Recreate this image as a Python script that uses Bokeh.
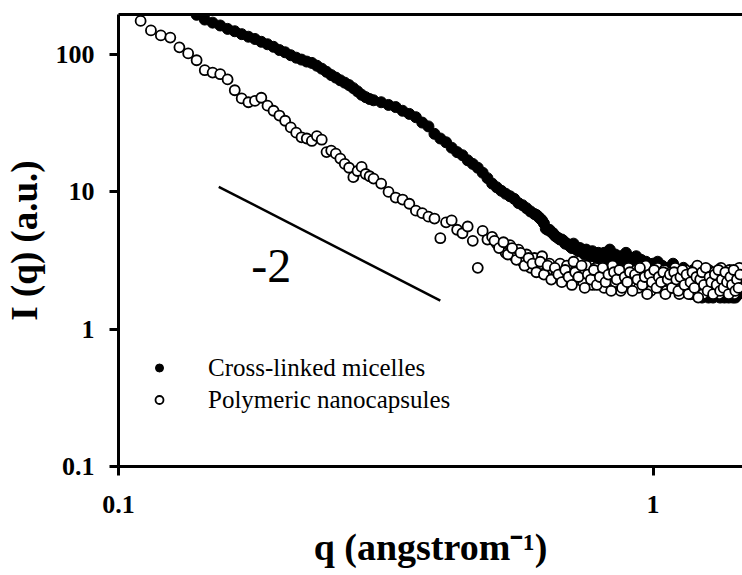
from bokeh.plotting import figure
from bokeh.models import Label, LogAxis, FixedTicker, Legend, LegendItem, Range1d
from bokeh.embed import file_html
from bokeh.resources import INLINE

# ---- data (q in 1/angstrom, I in a.u.) ----
q_micelles = [0.140, 0.145, 0.150, 0.155, 0.160, 0.165, 0.170, 0.175, 0.180, 0.185,
              0.190, 0.195, 0.200, 0.205, 0.210, 0.215, 0.220, 0.225, 0.230, 0.235,
              0.240, 0.245, 0.250, 0.255, 0.260, 0.265, 0.270, 0.275, 0.280, 0.285,
              0.290, 0.295, 0.300,
              0.31, 0.32, 0.33, 0.34, 0.35, 0.36, 0.37, 0.38, 0.39, 0.40,
              0.41, 0.42, 0.43, 0.44, 0.45, 0.46, 0.47, 0.48, 0.49, 0.50,
              0.51, 0.52, 0.53, 0.54, 0.55, 0.56, 0.57, 0.58, 0.59, 0.60,
              0.61, 0.62, 0.63, 0.64, 0.65, 0.66, 0.67, 0.68, 0.69, 0.70,
              0.71, 0.72, 0.73, 0.74, 0.75, 0.76, 0.77, 0.78, 0.79, 0.80,
              0.81, 0.82, 0.83, 0.84, 0.85, 0.86, 0.87, 0.88, 0.89, 0.90,
              0.91, 0.92, 0.93, 0.94, 0.95, 0.96, 0.97, 0.98, 0.99, 1.00,
              1.01, 1.02, 1.03, 1.04, 1.05, 1.06, 1.07, 1.08, 1.09, 1.10,
              1.11, 1.12, 1.13, 1.14, 1.15, 1.16, 1.17, 1.18, 1.19, 1.20,
              1.21, 1.22, 1.23, 1.24, 1.25, 1.26, 1.27, 1.28, 1.29, 1.30,
              1.31, 1.32, 1.33, 1.34, 1.35, 1.36, 1.37, 1.38, 1.39, 1.40,
              1.41, 1.42, 1.43, 1.44, 1.45, 1.46]
I_micelles = [195, 180, 171, 163, 154, 148, 141, 135, 130, 124,
              119, 114, 108, 104, 99, 95, 92, 89, 87, 83,
              79, 75, 71, 68, 65, 62.5, 60, 57, 54, 51,
              49, 47.5, 46.5,
              45, 43, 41.5, 39, 37, 35, 32, 30, 26.5, 24.5,
              23, 21, 19.5, 18.5, 17, 16, 15, 13.8, 12.6, 11.5,
              10.8, 10.2, 9.7, 9.3, 8.9, 8.3, 8.0, 7.6, 7.2, 6.9,
              6.6, 6.2, 5.4, 5.3, 5.0, 4.7, 4.5, 4.4, 4.2, 4.0,
              4.2, 3.8, 3.9, 3.6, 3.8, 3.5, 3.7, 3.4, 3.6, 3.3,
              3.6, 3.3, 3.8, 3.2, 3.5, 3.0, 3.4, 3.1, 3.6, 2.9,
              3.3, 3.0, 3.4, 2.8, 3.2, 2.7, 3.1, 2.9, 2.6, 3.0,
              2.7, 3.1, 2.5, 2.9, 2.6, 2.2, 2.8, 2.4, 3.0, 2.3,
              2.7, 2.0, 2.5, 2.8, 2.2, 2.6, 1.9, 2.4, 2.7, 2.1,
              2.5, 1.8, 2.3, 2.6, 2.0, 2.4, 1.7, 2.2, 2.5, 1.9,
              2.3, 2.6, 1.8, 2.1, 2.4, 1.7, 2.2, 2.5, 1.9, 2.3,
              1.7, 2.1, 2.4, 1.8, 2.2, 2.0]

q_capsules = [0.110, 0.115, 0.120, 0.125, 0.130, 0.135, 0.140, 0.145, 0.150, 0.155,
              0.160, 0.165, 0.170, 0.175, 0.180, 0.185, 0.190, 0.195, 0.200, 0.205,
              0.210, 0.215, 0.220, 0.225, 0.230, 0.235, 0.240, 0.245, 0.250, 0.255,
              0.260, 0.265, 0.270, 0.275, 0.280, 0.285, 0.290, 0.295, 0.300,
              0.31, 0.32, 0.33, 0.34, 0.35, 0.36, 0.37, 0.38, 0.39, 0.40,
              0.41, 0.42, 0.43, 0.44, 0.45, 0.46, 0.47, 0.48, 0.49, 0.50,
              0.51, 0.52, 0.53, 0.54, 0.55, 0.56, 0.57, 0.58, 0.59, 0.60,
              0.61, 0.62, 0.63, 0.64, 0.65, 0.66, 0.67, 0.68, 0.69, 0.70,
              0.71, 0.72, 0.73, 0.74, 0.75, 0.76, 0.77, 0.78, 0.79, 0.80,
              0.81, 0.82, 0.83, 0.84, 0.85, 0.86, 0.87, 0.88, 0.89, 0.90,
              0.91, 0.92, 0.93, 0.94, 0.95, 0.96, 0.97, 0.98, 0.99, 1.00,
              1.01, 1.02, 1.03, 1.04, 1.05, 1.06, 1.07, 1.08, 1.09, 1.10,
              1.11, 1.12, 1.13, 1.14, 1.15, 1.16, 1.17, 1.18, 1.19, 1.20,
              1.21, 1.22, 1.23, 1.24, 1.25, 1.26, 1.27, 1.28, 1.29, 1.30,
              1.31, 1.32, 1.33, 1.34, 1.35, 1.36, 1.37, 1.38, 1.39, 1.40,
              1.41, 1.42, 1.43, 1.44, 1.45, 1.46]
I_capsules = [176, 150, 138, 133, 113, 102, 91, 77, 74, 72,
              66, 55, 48, 45, 46, 48.5, 42.5, 39, 36, 33,
              29.5, 27, 25, 24.5, 23.5, 25.5, 24, 19.5, 20, 19,
              17.5, 16, 15, 12.8, 14.2, 15.2, 13.5, 13, 12.5,
              11.5, 10.0, 9.1, 8.8, 8.2, 7.3, 7.0, 6.6, 6.4, 4.6,
              6.0, 6.2, 5.3, 5.0, 5.6, 4.4, 2.8, 5.2, 4.5, 4.7,
              4.2, 4.0, 3.6, 4.1, 3.4, 3.8, 3.1, 3.5, 2.8, 3.3,
              2.9, 3.4, 2.6, 3.0, 2.7, 2.6, 3.0, 2.4, 2.9, 2.5,
              3.1, 2.3, 2.7, 2.2, 2.9, 2.5, 2.1, 2.8, 2.4, 2.6,
              2.0, 2.7, 2.3, 2.9, 2.2, 2.5, 1.9, 2.6, 2.3, 2.8,
              2.1, 2.4, 2.7, 2.0, 2.5, 2.2, 2.9, 2.3, 1.9, 2.6,
              2.2, 2.8, 2.0, 2.4, 2.7, 1.9, 2.3, 2.6, 2.1, 2.8,
              2.2, 1.8, 2.5, 2.3, 2.7, 2.0, 2.4, 1.8, 2.6, 2.2,
              2.9, 2.0, 2.4, 1.8, 2.5, 2.2, 2.7, 1.9, 2.3, 2.6,
              2.0, 2.4, 1.8, 2.8, 2.1, 2.5, 1.9, 2.3, 2.7, 2.0,
              2.4, 1.8, 2.6, 2.2, 2.8, 2.0]

# additional (interleaved) high-q readings
q_interleaved = [0.505, 0.515, 0.525, 0.535, 0.545, 0.555, 0.565, 0.575, 0.585, 0.595,
                 0.605, 0.615, 0.625, 0.635, 0.645, 0.655, 0.665, 0.675, 0.685, 0.695,
                 0.705, 0.715, 0.725, 0.735, 0.745, 0.755, 0.765, 0.775, 0.785, 0.795,
                 0.805, 0.815, 0.825, 0.835, 0.845, 0.855, 0.865, 0.875, 0.885, 0.895,
                 0.905, 0.915, 0.925, 0.935, 0.945, 0.955, 0.965, 0.975, 0.985, 0.995,
                 1.005, 1.015, 1.025, 1.035, 1.045, 1.055, 1.065, 1.075, 1.085, 1.095,
                 1.105, 1.115, 1.125, 1.135, 1.145, 1.155, 1.165, 1.175, 1.185, 1.195,
                 1.205, 1.215, 1.225, 1.235, 1.245, 1.255, 1.265, 1.275, 1.285, 1.295,
                 1.305, 1.315, 1.325, 1.335, 1.345, 1.355, 1.365, 1.375, 1.385, 1.395,
                 1.405, 1.415, 1.425, 1.435, 1.445, 1.455]
I_micelles_interleaved = [  # from q = 0.605 on
    6.8, 6.4, 5.9, 5.3, 5.1, 4.8, 4.6, 4.5, 4.2, 4.1,
    3.9, 4.0, 3.7, 3.8, 3.5, 3.6, 3.4, 3.6, 3.3, 3.5,
    3.2, 3.5, 3.1, 3.4, 3.0, 3.3, 2.9, 3.2, 2.8, 3.1,
    2.7, 3.2, 2.6, 3.0, 2.7, 2.9, 2.5, 2.8, 2.4, 2.7,
    2.3, 2.6, 2.8, 2.2, 2.5, 2.7, 2.1, 2.4, 2.6, 2.0,
    2.5, 2.2, 2.6, 1.9, 2.4, 2.1, 2.5, 1.8, 2.3, 2.0,
    2.4, 1.9, 2.2, 1.7, 2.3, 2.0, 2.4, 1.8, 2.1, 1.7,
    2.2, 1.9, 2.3, 1.7, 2.0, 2.3, 1.8, 2.1, 1.7, 2.2,
    1.9, 2.3, 1.7, 2.0, 1.8, 2.2]
I_capsules_interleaved = [
    4.4, 3.9, 4.3, 3.5, 3.9, 3.2, 3.6, 2.9, 3.3, 3.0,
    2.6, 3.1, 2.5, 2.9, 2.3, 2.8, 2.5, 2.2, 2.7, 2.4,
    2.1, 2.6, 2.4, 2.9, 2.0, 2.5, 2.3, 2.7, 2.1, 2.4,
    2.8, 2.2, 2.5, 1.9, 2.6, 2.3, 2.7, 2.0, 2.4, 2.2,
    2.6, 1.9, 2.5, 2.3, 2.8, 2.1, 2.4, 1.8, 2.5, 2.2,
    2.7, 2.0, 2.4, 2.2, 2.6, 1.8, 2.3, 2.5, 2.0, 2.6,
    2.3, 1.9, 2.4, 2.7, 2.1, 2.5, 1.8, 2.2, 2.6, 2.0,
    2.4, 1.7, 2.3, 2.6, 2.1, 2.8, 1.9, 2.4, 2.2, 1.8,
    2.5, 2.1, 2.7, 1.9, 2.3, 2.0, 2.6, 2.2, 1.8, 2.4,
    2.1, 2.7, 1.9, 2.3, 2.0, 2.5]

series_labels = ["Cross-linked micelles", "Polymeric nanocapsules"]
x_ticks = [0.1, 1]
y_ticks = [0.1, 1, 10, 100]
x_tick_labels = ["0.1", "1"]
y_tick_labels = ["0.1", "1", "10", "100"]
x_title = "q (angstrom\u207b\u00b9)"
y_title = "I (q) (a.u.)"

# guide line of slope -2
slope = -2
slope_q = [0.154, 0.40]
slope_I = [10.9 * (q / slope_q[0]) ** slope for q in slope_q]

SERIF = "Liberation Serif"

p = figure(width=742, height=575, x_axis_type="log", y_axis_type="log",
           x_range=Range1d(0.1, 1.47), y_range=Range1d(0.1, 196),
           output_backend="svg", toolbar_location=None,
           min_border_left=117, min_border_right=0, min_border_top=14, min_border_bottom=109,
           background_fill_color="white", border_fill_color="white")
p.outline_line_color = None
p.grid.visible = False

for ax, ticks, labels in ((p.xaxis[0], x_ticks, x_tick_labels), (p.yaxis[0], y_ticks, y_tick_labels)):
    ax.ticker = FixedTicker(ticks=ticks, minor_ticks=[])
    ax.major_label_overrides = {t: l for t, l in zip(ticks, labels)}
    ax.axis_line_width = 3
    ax.axis_line_color = "black"
    ax.major_tick_line_width = 3
    ax.major_tick_line_color = "black"
    ax.major_tick_in = 0
    ax.major_tick_out = 9
    ax.minor_tick_line_color = None
    ax.major_label_text_font = SERIF
    ax.major_label_text_font_style = "bold"
    ax.major_label_text_font_size = "26px"
    ax.major_label_text_color = "black"
    ax.axis_label_text_font = SERIF
    ax.axis_label_text_font_style = "bold"
    ax.axis_label_text_font_size = "37px"
    ax.axis_label_text_color = "black"

p.xaxis.major_label_standoff = 20
p.yaxis.major_label_standoff = 15

p.yaxis.axis_label = y_title
p.yaxis.axis_label_standoff = 8
p.xaxis.axis_label = x_title
p.xaxis.axis_label_standoff = 10
p.xaxis.axis_label_text_font_size = "38px"

# top frame line
top = LogAxis(ticker=FixedTicker(ticks=[], minor_ticks=[]), axis_line_width=3,
              axis_line_color="black", major_tick_out=0, major_tick_in=0,
              major_label_text_font_size="0px", major_label_standoff=0)
p.add_layout(top, "above")

r1 = p.scatter(q_micelles, I_micelles, marker="circle", size=11,
               fill_color="black", line_color="black")
p.scatter(q_interleaved[10:], I_micelles_interleaved, marker="circle", size=11,
          fill_color="black", line_color="black")
r2 = p.scatter(q_capsules, I_capsules, marker="circle", size=10,
               fill_color="white", line_color="black", line_width=1.8)
p.scatter(q_interleaved, I_capsules_interleaved, marker="circle", size=10,
          fill_color="white", line_color="black", line_width=1.8)

p.line(slope_q, slope_I, line_color="black", line_width=2.5)
p.add_layout(Label(x=0.193, y=2.91, text=str(slope), text_align="center",
                   text_baseline="middle", text_font=SERIF, text_font_size="48px",
                   text_color="black"))

legend = Legend(items=[LegendItem(label=series_labels[0], renderers=[r1]),
                       LegendItem(label=series_labels[1], renderers=[r2])],
                location=(31, 52), glyph_width=20, glyph_height=29, label_height=29,
                label_standoff=39, spacing=3, padding=0, margin=0,
                border_line_color=None, background_fill_alpha=0,
                label_text_font=SERIF, label_text_font_size="25px",
                label_text_color="black")
p.add_layout(legend)

open("out.html", "w").write(file_html(p, INLINE))
